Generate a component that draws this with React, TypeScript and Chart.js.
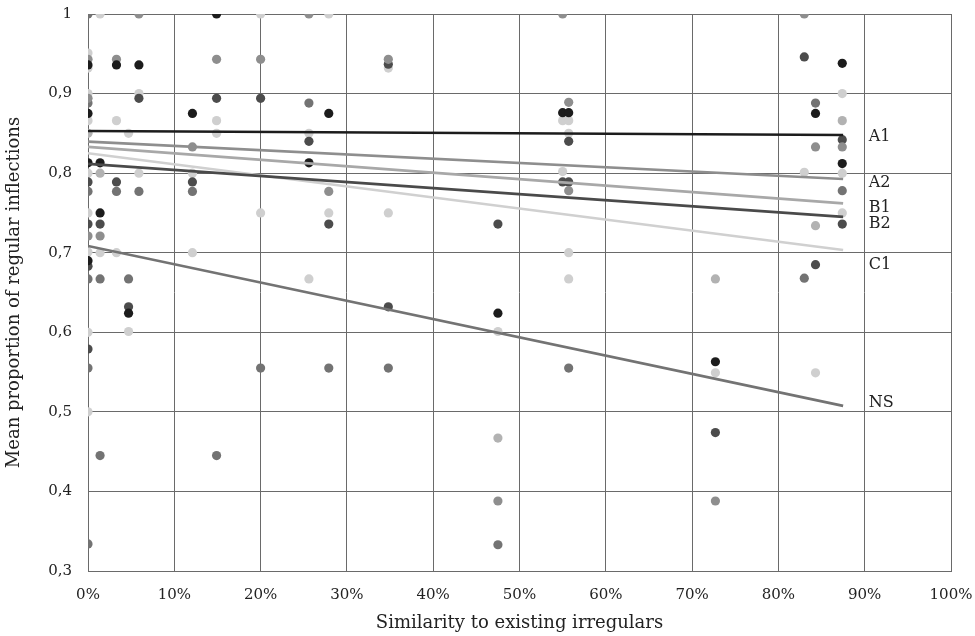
import React, { useEffect, useRef } from 'react';
import { Chart, registerables } from 'chart.js';
Chart.register(...registerables);

const FONT = "'DejaVu Serif', 'Liberation Serif', serif";

const seriesNames = ['A1', 'A2', 'B1', 'B2', 'C1', 'NS'];
const pointColors = ['#1c1c1c', '#8e8e8e', '#b2b2b2', '#4c4c4c', '#cfcfcf', '#737373'];
const lineColors = ['#1c1c1c', '#8e8e8e', '#a8a8a8', '#4a4a4a', '#d0d0d0', '#737373'];

// trend lines: value at 0% and at end
const trendStartX = 0;
const trendEndX = 87.5;
const trendStartY = [0.853, 0.8396, 0.833, 0.8116, 0.825, 0.7085];
const trendEndY = [0.848, 0.7927, 0.762, 0.745, 0.7035, 0.5075];

// end labels
const labelX = 90;
const labelY = [0.846, 0.788, 0.756, 0.736, 0.685, 0.511];

const a1X = [0, 0, 0, 0, 1.4, 1.4, 3.3, 4.7, 5.9, 12.1, 14.9, 25.6, 27.9, 47.5, 55.0, 55.7, 72.7, 84.3, 87.4, 87.4];
const a1Y = [0.936, 0.875, 0.813, 0.69, 0.813, 0.75, 0.936, 0.624, 0.936, 0.875, 1.0, 0.813, 0.875, 0.624, 0.876, 0.876, 0.563, 0.875, 0.938, 0.812];

const a2X = [0, 0, 0, 1.4, 3.3, 5.9, 12.1, 14.9, 20.0, 25.6, 27.9, 34.8, 47.5, 55.0, 55.7, 55.7, 72.7, 83.0, 84.3, 87.4];
const a2Y = [0.943, 0.894, 0.721, 0.721, 0.943, 1.0, 0.833, 0.943, 0.943, 1.0, 0.777, 0.943, 0.388, 1.0, 0.889, 0.778, 0.388, 1.0, 0.833, 0.833];

const b1X = [1.4, 47.5, 72.7, 84.3, 87.4, 0];
const b1Y = [0.80, 0.467, 0.667, 0.734, 0.866, 0.85];

const b2X = [0, 0, 0, 0, 1.4, 3.3, 4.7, 5.9, 12.1, 14.9, 20.0, 25.6, 27.9, 34.8, 34.8, 47.5, 55.0, 55.7, 55.7, 72.7, 83.0, 84.3, 87.4, 87.4];
const b2Y = [0.789, 0.736, 0.683, 0.579, 0.736, 0.789, 0.632, 0.894, 0.789, 0.894, 0.894, 0.84, 0.736, 0.937, 0.632, 0.736, 0.789, 0.84, 0.789, 0.474, 0.946, 0.685, 0.842, 0.736];

const c1X = [0, 0, 0, 0, 0, 0, 0, 0, 0, 1.4, 1.4, 3.3, 3.3, 4.7, 4.7, 5.9, 5.9, 12.1, 12.1, 14.9, 14.9, 20.0, 20.0, 25.6, 25.6, 27.9, 27.9, 34.8, 34.8, 47.5, 55.0, 55.0, 55.7, 55.7, 55.7, 55.7, 72.7, 83.0, 84.3, 87.4, 87.4, 87.4];
const c1Y = [0.951, 0.932, 0.90, 0.866, 0.80, 0.75, 0.701, 0.60, 0.50, 1.0, 0.70, 0.866, 0.70, 0.85, 0.601, 0.90, 0.80, 0.80, 0.70, 0.866, 0.85, 1.0, 0.75, 0.85, 0.667, 1.0, 0.75, 0.932, 0.75, 0.601, 0.866, 0.802, 0.866, 0.85, 0.70, 0.667, 0.549, 0.801, 0.549, 0.90, 0.80, 0.75];

const nsX = [0, 0, 0, 0, 0, 0, 1.4, 1.4, 3.3, 4.7, 5.9, 12.1, 14.9, 20.0, 25.6, 27.9, 34.8, 47.5, 55.7, 83.0, 84.3, 87.4];
const nsY = [1.0, 0.888, 0.777, 0.667, 0.555, 0.334, 0.667, 0.445, 0.777, 0.667, 0.777, 0.777, 0.445, 0.555, 0.888, 0.555, 0.555, 0.333, 0.555, 0.668, 0.888, 0.778];

const seriesX = [a1X, a2X, b1X, b2X, c1X, nsX];
const seriesY = [a1Y, a2Y, b1Y, b2Y, c1Y, nsY];

const xTicks = [0, 10, 20, 30, 40, 50, 60, 70, 80, 90, 100];
const yTicks = [0.3, 0.4, 0.5, 0.6, 0.7, 0.8, 0.9, 1];

const GRID = '#6a6a6a';
const TEXT = '#222222';

const endLabels = {
  id: 'endLabels',
  afterDatasetsDraw(chart: any) {
    const { ctx } = chart;
    const x = chart.scales.x;
    const y = chart.scales.y;
    ctx.save();
    ctx.font = `16px ${FONT}`;
    ctx.fillStyle = TEXT;
    ctx.textAlign = 'left';
    ctx.textBaseline = 'middle';
    seriesNames.forEach((n, i) => {
      ctx.fillText(n, x.getPixelForValue(labelX) + 4, y.getPixelForValue(labelY[i]));
    });
    ctx.restore();
  },
};

export default function App() {
  const ref = useRef<HTMLCanvasElement>(null);
  useEffect(() => {
    if (!ref.current) return;
    const scatterSets = seriesNames.map((n, i) => ({
      type: 'scatter' as const,
      label: n,
      data: seriesX[i].map((xv, j) => ({ x: xv, y: seriesY[i][j] })),
      backgroundColor: pointColors[i],
      borderWidth: 0,
      pointRadius: 4.6,
      order: 2,
    }));
    const lineSets = seriesNames.map((n, i) => ({
      type: 'line' as const,
      label: n + ' trend',
      data: [
        { x: trendStartX, y: trendStartY[i] },
        { x: trendEndX, y: trendEndY[i] },
      ],
      borderColor: lineColors[i],
      borderWidth: 2.6,
      pointRadius: 0,
      fill: false,
      order: 1,
    }));
    const chart = new Chart(ref.current, {
      type: 'scatter',
      data: { datasets: [...lineSets, ...scatterSets] as any },
      options: {
        animation: false,
        responsive: false,
        maintainAspectRatio: false,
        layout: { padding: { top: 14, right: 24, left: 0, bottom: 0 } },
        plugins: { legend: { display: false }, tooltip: { enabled: false } },
        scales: {
          x: {
            type: 'linear',
            min: 0,
            max: 100,
            afterBuildTicks: (s: any) => { s.ticks = xTicks.map((v) => ({ value: v })); },
            afterFit: (s: any) => { s.height = 65; s.paddingLeft = 0; s.paddingRight = 0; },
            ticks: {
              callback: (v: any) => `${v}%`,
              color: TEXT,
              font: { family: FONT, size: 15 },
              padding: 15,
              maxRotation: 0,
              autoSkip: false,
            },
            grid: { color: GRID, lineWidth: 1, drawTicks: false },
            border: { display: true, color: GRID, width: 1 },
            title: {
              display: true,
              text: 'Similarity to existing irregulars',
              color: TEXT,
              font: { family: FONT, size: 18 },
              padding: { top: 0, bottom: 2 },
            },
          },
          y: {
            type: 'linear',
            min: 0.3,
            max: 1,
            afterBuildTicks: (s: any) => { s.ticks = yTicks.map((v) => ({ value: v })); },
            afterFit: (s: any) => { s.width = 88; s.paddingTop = 0; s.paddingBottom = 0; },
            ticks: {
              callback: (v: any) => (Math.abs(v - 1) < 1e-9 ? '1' : Number(v).toFixed(1).replace('.', ',')),
              color: TEXT,
              font: { family: FONT, size: 15 },
              padding: 16,
              autoSkip: false,
            },
            grid: { color: GRID, lineWidth: 1, drawTicks: false },
            border: { display: true, color: GRID, width: 1 },
            title: {
              display: true,
              text: 'Mean proportion of regular inflections',
              color: TEXT,
              font: { family: FONT, size: 18 },
              padding: { top: 4, bottom: 0 },
            },
          },
        },
      },
      plugins: [endLabels],
    });
    return () => chart.destroy();
  }, []);
  return (
    <div style={{ position: 'fixed', left: 0, top: 0, width: 975, height: 636, background: '#fff' }}>
      <canvas ref={ref} width={975} height={636} style={{ width: 975, height: 636, display: 'block' }} />
    </div>
  );
}
